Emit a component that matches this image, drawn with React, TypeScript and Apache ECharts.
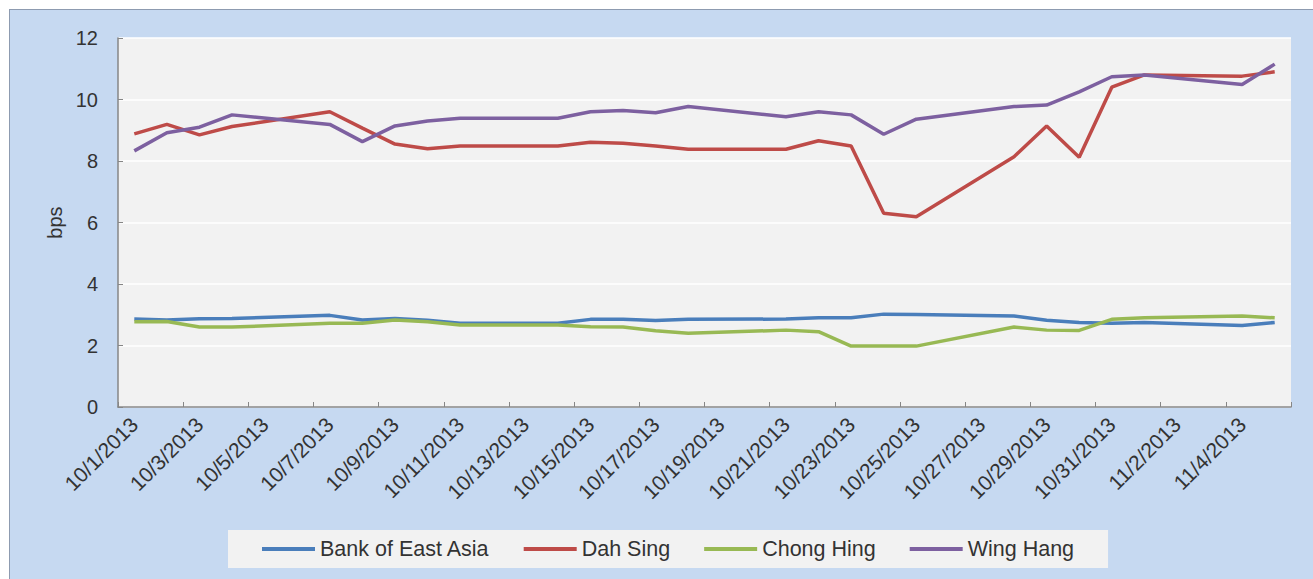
import React, { useEffect, useRef } from "react";
import * as echarts from "echarts";

const categories = [
  "10/1/2013", "10/2/2013", "10/3/2013", "10/4/2013", "10/5/2013", "10/6/2013",
  "10/7/2013", "10/8/2013", "10/9/2013", "10/10/2013", "10/11/2013", "10/12/2013",
  "10/13/2013", "10/14/2013", "10/15/2013", "10/16/2013", "10/17/2013", "10/18/2013",
  "10/19/2013", "10/20/2013", "10/21/2013", "10/22/2013", "10/23/2013", "10/24/2013",
  "10/25/2013", "10/26/2013", "10/27/2013", "10/28/2013", "10/29/2013", "10/30/2013",
  "10/31/2013", "11/1/2013", "11/2/2013", "11/3/2013", "11/4/2013", "11/5/2013",
];

const tradingDays = [
  "10/1/2013", "10/2/2013", "10/3/2013", "10/4/2013", "10/7/2013", "10/8/2013",
  "10/9/2013", "10/10/2013", "10/11/2013", "10/14/2013", "10/15/2013", "10/16/2013",
  "10/17/2013", "10/18/2013", "10/21/2013", "10/22/2013", "10/23/2013", "10/24/2013",
  "10/25/2013", "10/28/2013", "10/29/2013", "10/30/2013", "10/31/2013", "11/1/2013",
  "11/4/2013", "11/5/2013",
];

const bankOfEastAsia = [2.86, 2.83, 2.87, 2.88, 2.98, 2.83, 2.88, 2.82, 2.72, 2.72, 2.85, 2.85, 2.81, 2.85, 2.86, 2.9, 2.9, 3.02, 3.01, 2.96, 2.82, 2.75, 2.72, 2.75, 2.65, 2.75];
const dahSing = [8.88, 9.19, 8.85, 9.12, 9.6, 9.07, 8.55, 8.4, 8.49, 8.49, 8.61, 8.58, 8.49, 8.38, 8.38, 8.66, 8.49, 6.3, 6.19, 8.14, 9.14, 8.12, 10.4, 10.8, 10.76, 10.9];
const chongHing = [2.77, 2.78, 2.6, 2.6, 2.72, 2.72, 2.83, 2.77, 2.67, 2.67, 2.61, 2.6, 2.48, 2.4, 2.5, 2.45, 1.98, 1.98, 1.98, 2.6, 2.5, 2.49, 2.85, 2.9, 2.96, 2.9];
const wingHang = [8.33, 8.92, 9.1, 9.5, 9.19, 8.63, 9.14, 9.3, 9.39, 9.39, 9.6, 9.64, 9.57, 9.77, 9.44, 9.6, 9.5, 8.87, 9.36, 9.77, 9.82, 10.25, 10.74, 10.8, 10.49, 11.15];

const seriesNames = ["Bank of East Asia", "Dah Sing", "Chong Hing", "Wing Hang"];
const seriesColors = ["#4A7EBB", "#BE4B48", "#98B954", "#7D60A0"];
const seriesValues = [bankOfEastAsia, dahSing, chongHing, wingHang];

const yTicks = { min: 0, max: 12, interval: 2 };

function expand(values: number[]) {
  return categories.map((d) => {
    const i = tradingDays.indexOf(d);
    return i >= 0 ? values[i] : null;
  });
}

const FONT = "'Liberation Sans', Arial, sans-serif";

export default function App() {
  const ref = useRef<HTMLDivElement>(null);
  useEffect(() => {
    if (!ref.current) return;
    const chart = echarts.init(ref.current, undefined, { renderer: "svg" });
    chart.setOption({
      animation: false,
      backgroundColor: "transparent",
      textStyle: { fontFamily: FONT },
      grid: {
        left: 118,
        top: 38,
        right: 22,
        bottom: 172,
        show: true,
        backgroundColor: "#F2F2F2",
        borderWidth: 0,
      },
      legend: {
        left: 228,
        top: 530,
        padding: [8, 34, 8, 34],
        backgroundColor: "#F2F2F2",
        icon: "rect",
        itemWidth: 53,
        itemHeight: 4,
        itemGap: 34,
        textStyle: { fontSize: 21.5, color: "#333333", fontFamily: FONT },
        data: seriesNames,
      },
      xAxis: {
        type: "category",
        data: categories,
        boundaryGap: true,
        axisLine: { show: true, lineStyle: { color: "#868686", width: 1.5 } },
        axisTick: { show: true, inside: true, interval: 1, length: 5, lineStyle: { color: "#868686" } },
        axisLabel: {
          interval: 1,
          rotate: 45,
          fontSize: 21,
          color: "#333333",
          margin: 14,
          fontFamily: FONT,
        },
        splitLine: { show: false },
      },
      yAxis: {
        type: "value",
        min: yTicks.min,
        max: yTicks.max,
        interval: yTicks.interval,
        name: "bps",
        nameLocation: "middle",
        nameGap: 50,
        nameRotate: 90,
        nameTextStyle: { fontSize: 20, color: "#333333", fontFamily: FONT },
        axisLine: { show: true, lineStyle: { color: "#868686", width: 1.5 } },
        axisTick: { show: true, inside: true, length: 5, lineStyle: { color: "#868686" } },
        axisLabel: { fontSize: 20, color: "#333333", margin: 20, fontFamily: FONT },
        splitLine: { show: true, lineStyle: { color: "#FFFFFF", width: 1.5 } },
      },
      series: seriesNames.map((name, k) => ({
        name,
        type: "line",
        data: expand(seriesValues[k]),
        connectNulls: true,
        symbol: "none",
        showSymbol: false,
        color: seriesColors[k],
        itemStyle: { color: seriesColors[k] },
        lineStyle: { color: seriesColors[k], width: 3.5 },
      })),
    });
    return () => chart.dispose();
  }, []);

  return (
    <div style={{ position: "fixed", left: 0, top: 0, width: 1313, height: 579, background: "#FFFFFF" }}>
      <div
        style={{
          position: "absolute",
          left: 9,
          top: 9,
          right: 0,
          bottom: 0,
          background: "#C6D9F1",
          borderLeft: "1.5px solid #8D9BB0",
          borderTop: "1.5px solid #8D9BB0",
        }}
      />
      <div ref={ref} style={{ position: "absolute", left: 0, top: 0, width: 1313, height: 579 }} />
    </div>
  );
}
